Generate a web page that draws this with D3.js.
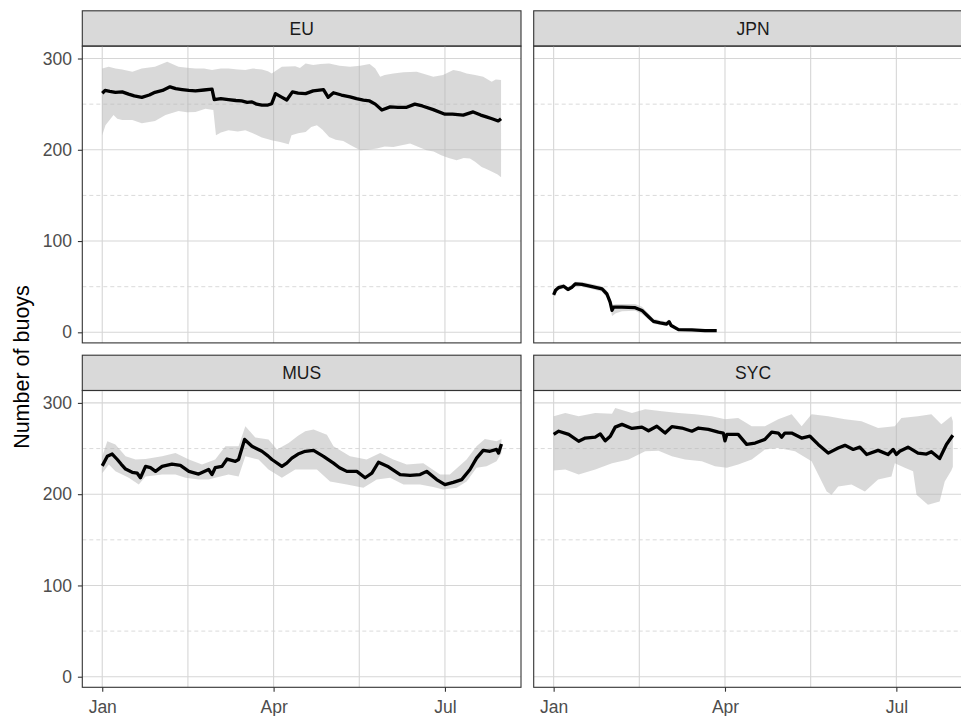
<!DOCTYPE html>
<html>
<head>
<meta charset="utf-8">
<script src="https://cdn.jsdelivr.net/npm/d3@7"></script>
<style>
  body { margin: 0; background: #fff; }
  svg { display: block; font-family: "Liberation Sans", Arial, sans-serif; }
</style>
</head>
<body>
<div id="container"></div>
<script>
// facets, in facet_wrap order
const countries = ['EU', 'JPN', 'MUS', 'SYC'];

// y axis breaks
const yTicks = [0, 100, 200, 300];
const yMinorTicks = [50, 150, 250];

// x axis breaks (2020, days since 1 Jan)
const xTickDates = ['2020-01-01', '2020-04-01', '2020-07-01'];
const dayRange = [0, 211.8];

// series: [day since 1 Jan, number of buoys]
const euMean = [[0,262],[1.5,265],[4,264],[7,263],[10.6,263.5],[14,261],[17,259],[21,257.5],[25,260],[28,263],[32,265],[36,269],[39,267],[42.4,266],[46,265],[49.5,264.5],[54,265.5],[58.3,266.5],[59.5,255],[63,256],[67,255],[71,254],[74,253.5],[77,252],[79.5,252.5],[82,250],[84.8,249],[88,249],[90,250.5],[92,261.5],[95,258],[98,254.5],[101,263.5],[104,262],[108,261.5],[112,264.5],[117.5,266],[120,257.5],[122.8,262.5],[127,260],[131.6,258],[135,256],[138.7,254.5],[142,253.5],[145,250],[148.5,243.5],[152.9,247],[157,246.5],[161.7,246.5],[166,250],[170,248],[175.8,244],[182,239],[186,239],[191.7,238],[197,241.5],[201,238],[204,236],[207,234],[210.3,231.6],[211.8,234]];
const euHigh = [[0,289],[3.4,291],[7,289],[10.6,288],[16,285.5],[21,289],[28,291],[34.5,296.5],[40.5,291],[45,290],[49.5,289],[54,289],[58.3,287.5],[63,289],[67,289],[72,288],[76,287.5],[80,289],[84.8,288],[88,286],[90,283.5],[95.4,291],[102.5,291.5],[105,289.5],[108,294.5],[112,293],[116,294],[120.5,294.5],[126,292],[131.6,291],[137,292],[142,294],[145,289],[147.6,280],[150,282],[154.6,283.5],[160,285],[167,285.5],[171,283],[175.8,280],[181,282],[186.4,287.5],[190,286],[193.5,283.5],[198,282],[202.3,280],[206.8,274.5],[209,277],[211.8,276.5]];
const euLow = [[0,216],[1.7,227],[6,238],[8,234],[10.6,232.5],[16,232.5],[21,229],[28,231.5],[33.6,238],[40.5,242.5],[45,241],[49.5,241.5],[54.8,245],[59,243.5],[60.4,216],[63,219],[67,221.5],[72,220],[76,221.5],[80,218],[84.8,213.5],[90,210.5],[94.5,208.5],[99,206],[100.5,216],[104,218],[108,219.5],[111,225],[114,227],[117,222],[120.5,214],[124,211],[128,209.5],[132,205],[137,199.5],[141,200],[145.8,201.5],[150,203.5],[154.6,203],[159,205],[163.5,207],[168,203],[172.3,199.5],[176,198],[180,194],[184,191],[188.2,188.5],[192,191],[195.3,190.5],[198,187],[201.5,181],[204,179],[207.6,175.5],[210,173],[211.8,170]];

const jpnMean = [[0,41],[1,46],[2.7,49],[5.3,50.5],[7.6,47],[9.5,49],[11.5,53],[15,52.5],[20.4,50],[25.7,47.5],[28.3,42],[30,33],[31,24],[31.8,27.5],[36.3,27.5],[43.3,27],[46.9,24],[50.4,17],[53,12],[56.6,10.3],[60,9],[61.3,11.7],[62.4,7.5],[66.3,3],[73.4,2.6],[80.4,1.9],[86.6,1.9]];
const jpnHigh = [[0,44],[2.7,52],[5.3,53],[7.6,49.5],[11.5,55.5],[15,55],[20.4,53],[25.7,50.5],[28.3,45.5],[30,37],[31,30],[33,31],[36.3,31],[43.3,31],[46.9,28],[50.4,20.5],[53,15],[56.6,13],[60,12],[61.3,14],[62.4,10],[66.3,5],[73.4,4],[80.4,3],[86.6,3]];
const jpnLow = [[0,39],[2.7,46.5],[5.3,48],[7.6,44.5],[11.5,50.5],[15,50],[20.4,47.5],[25.7,44.5],[28.3,38],[30,29],[31,18],[33,21],[36.3,23],[43.3,23.5],[46.9,20],[50.4,14],[53,9.5],[56.6,8],[60,7],[61.3,9],[62.4,5.5],[66.3,1.5],[73.4,1.2],[80.4,0.8],[86.6,0.8]];

const musMean = [[0,231],[2.7,241.5],[5.3,244],[8,238],[10,233],[12.4,227.5],[15.9,224],[18.6,223],[20.3,218],[23,230.5],[25.6,229],[28.3,225],[31.8,230.5],[37,233],[41.5,231.5],[46,225],[51.2,222],[56.5,227],[58.3,221.5],[60,229],[63.6,230.5],[66.3,238.5],[70.7,236],[72.4,238],[75.6,260],[79.5,252.5],[84.8,247],[88,242],[90.1,238],[95.4,230.5],[98,234],[100.7,239.5],[104,244],[107.8,247],[112.2,248],[117.5,241.5],[122.8,234],[126,229],[129.9,225],[135.2,225],[139.6,218],[143.2,223],[146.7,235],[152,230],[158.2,221.5],[163.5,220.5],[168.8,221.5],[172.3,225],[177.6,216],[182,210.5],[186.4,213],[190.9,216],[195.3,227],[198.8,239.5],[202.3,248],[205.9,247],[209.4,249],[210.5,245],[212,255]];
const musHigh = [[0,241.5],[2.7,258],[7,254.5],[12.4,241.5],[17.7,238],[23,238.5],[31.8,241.5],[38.9,245],[46,238],[53,232.5],[60,238],[65.4,252.5],[72.4,252.5],[76,274.5],[81.3,262],[88.3,260],[92.8,249],[99,256],[104,264],[107.8,269],[112.2,271],[119.3,265],[122.8,252.5],[131.6,241.5],[140.4,238],[147.6,245],[154.6,238],[161.7,232.5],[170.5,234],[179.4,221.5],[184.6,221.5],[193.5,238],[198.8,252.5],[203.2,260.5],[209.4,258],[212,260.5]];
const musLow = [[0,223],[3.5,232.5],[7,225],[14.1,218],[19.4,210.5],[23,219.5],[31.8,221.5],[38.9,221.5],[44.2,218],[51.2,216],[56.5,216],[60,218],[67.1,221.5],[72.4,219.5],[76,241.5],[83,238],[88.3,227],[95.4,218],[102.5,227],[107.8,227],[114,227],[121,214],[129.9,210.5],[138.7,207],[145.8,216],[152.9,218],[160,210.5],[168.8,210.5],[175.8,208],[181,205],[188.2,207],[193.5,214],[198.8,229],[204.1,230.5],[209.4,236],[212,245]];

const sycMean = [[0,265.5],[2.7,269],[8,265.5],[13.3,258],[16.8,261.5],[22.1,262.5],[24.8,266],[27.4,258.5],[30.1,263.5],[32.7,273.5],[36.3,276.5],[41.6,272],[46.9,273.5],[50.4,269.5],[54.8,274.5],[59.2,267],[62.8,274],[68.1,272.5],[73.4,269],[76.9,272.5],[82.2,271],[87.5,268],[90.1,267],[91,258.5],[92,265.5],[98,265.5],[102.5,254.5],[107,256],[112.2,260],[115.8,268],[119.3,267],[121.1,262.5],[122.8,267],[126.4,267],[131.7,261.5],[136.1,263.5],[140.5,254.5],[145.8,245],[151.1,250.5],[154.7,253.5],[159.1,249],[162.6,251.5],[166.2,243.5],[172.3,248],[177.6,243.5],[180.3,249],[182,243.5],[183.8,247],[188.2,251.5],[193.5,245],[198,244],[200.6,246.5],[205,239],[208.6,254.5],[212,264.5]];
const sycHigh = [[0,285.5],[6.2,289],[13.3,285.5],[22.1,289],[31,288],[32.7,294.5],[41.6,289],[48.6,293],[57.5,291],[66.3,289],[75.1,287.5],[84,285.5],[91,282],[98,283.5],[105.2,274.5],[112.2,274.5],[119.3,282],[126.4,287.5],[131.7,274.5],[137,287.5],[145.8,285.5],[154.7,282],[163.5,280],[172.3,272.5],[181.2,274.5],[184.7,283.5],[193.5,285.5],[200.6,287.5],[205.9,276.5],[211.2,285.5],[212,280]];
const sycLow = [[0,226],[6.2,227],[13.3,221.5],[22.1,227],[31,234],[39.8,238],[48.6,247],[55.7,247.5],[62.8,241.5],[69.8,238],[78.7,236],[85.7,230.5],[92,229],[98,232.5],[105.2,238],[112.2,249],[119.3,250.5],[128.2,247],[137,236],[140.5,221.5],[145,203],[147.6,199.5],[151.1,208.5],[158.2,210.5],[165.3,203],[172.3,216],[179.4,219.5],[181.2,234],[186.5,229],[190.9,225],[192.7,199.5],[198.8,188.5],[205,192],[207.7,214],[211.2,226],[212,230]];

const series = {
  EU: { mean: euMean, low: euLow, high: euHigh },
  JPN: { mean: jpnMean, low: jpnLow, high: jpnHigh },
  MUS: { mean: musMean, low: musLow, high: musHigh },
  SYC: { mean: sycMean, low: sycLow, high: sycHigh }
};

const w = 961;
const h = 716;
const panelW = 438.7;
const panelH = 296.8;
const stripH = 35.3;
const colX = [82.3, 533.7];
const rowY = [10.8, 355.2]; // top of each strip

const dayMs = 864e5;
const jan1 = Date.UTC(2020, 0, 1);
const toDate = d => new Date(jan1 + d * dayMs);

const span = dayRange[1] - dayRange[0];
const xScale = d3
  .scaleUtc()
  .domain([toDate(dayRange[0] - 0.05 * span), toDate(dayRange[1] + 0.05 * span)])
  .range([0, panelW]);

const yScale = d3.scaleLinear().domain([-11.6, 313.6]).range([panelH, 0]);

const majorX = xTickDates.map(s => new Date(s + 'T00:00:00Z'));
const minorX = d3.pairs(majorX).map(([a, b]) => new Date((+a + +b) / 2));

const svg = d3
  .select('#container')
  .append('svg')
  .attr('width', w)
  .attr('height', h);

svg.append('defs')
  .append('clipPath')
  .attr('id', 'panel-clip')
  .append('rect')
  .attr('width', panelW)
  .attr('height', panelH);

const line = d3
  .line()
  .x(d => xScale(toDate(d[0])))
  .y(d => yScale(d[1]))
  .curve(d3.curveLinear);

countries.forEach((name, i) => {
  const col = i % 2;
  const row = Math.floor(i / 2);
  const px = colX[col];
  const stripTop = rowY[row];
  const py = stripTop + stripH;
  const s = series[name];

  // strip
  svg.append('rect')
    .attr('x', px)
    .attr('y', stripTop)
    .attr('width', panelW)
    .attr('height', stripH)
    .attr('fill', '#d9d9d9')
    .attr('stroke', '#333333')
    .attr('stroke-width', 1.1);
  svg.append('text')
    .attr('x', px + panelW / 2)
    .attr('y', stripTop + stripH / 2 + 6.5)
    .attr('text-anchor', 'middle')
    .attr('font-size', 17.5)
    .attr('fill', '#1a1a1a')
    .text(name);

  const g = svg.append('g').attr('transform', `translate(${px},${py})`);
  const inner = g.append('g').attr('clip-path', 'url(#panel-clip)');

  inner.selectAll('.minor-y')
    .data(yMinorTicks)
    .enter()
    .append('line')
    .attr('x1', 0)
    .attr('x2', panelW)
    .attr('y1', d => yScale(d))
    .attr('y2', d => yScale(d))
    .attr('stroke', '#d6d6d6')
    .attr('stroke-width', 0.9)
    .attr('stroke-dasharray', '4,3');

  inner.selectAll('.major-y')
    .data(yTicks)
    .enter()
    .append('line')
    .attr('x1', 0)
    .attr('x2', panelW)
    .attr('y1', d => yScale(d))
    .attr('y2', d => yScale(d))
    .attr('stroke', '#d6d6d6')
    .attr('stroke-width', 1.1);

  inner.selectAll('.grid-x')
    .data(majorX.concat(minorX))
    .enter()
    .append('line')
    .attr('x1', d => xScale(d))
    .attr('x2', d => xScale(d))
    .attr('y1', 0)
    .attr('y2', panelH)
    .attr('stroke', '#d6d6d6')
    .attr('stroke-width', 1.1);

  // ribbon: upper edge then lower edge backwards
  const ribbon = s.high.concat(s.low.slice().reverse());
  inner.append('path')
    .attr('d', line(ribbon) + 'Z')
    .attr('fill', '#b3b3b3')
    .attr('fill-opacity', 0.5);

  inner.append('path')
    .attr('d', line(s.mean))
    .attr('fill', 'none')
    .attr('stroke', '#000')
    .attr('stroke-width', 3.3)
    .attr('stroke-linejoin', 'round');

  g.append('rect')
    .attr('width', panelW)
    .attr('height', panelH)
    .attr('fill', 'none')
    .attr('stroke', '#333333')
    .attr('stroke-width', 1.1);

  if (col === 0) {
    const yAxis = d3.axisLeft(yScale).tickValues(yTicks).tickSize(4.4).tickPadding(6);
    const ya = g.append('g').call(yAxis);
    ya.select('.domain').remove();
    ya.selectAll('.tick line').attr('stroke', '#333333').attr('stroke-width', 1.1);
    ya.selectAll('.tick text')
      .attr('fill', '#4d4d4d')
      .attr('font-size', 17.5);
    ya.attr('font-family', null);
  }

  if (row === 1) {
    const xAxis = d3.axisBottom(xScale)
      .tickValues(majorX)
      .tickFormat(d3.utcFormat('%b'))
      .tickSize(4.4)
      .tickPadding(9);
    const xa = g.append('g')
      .attr('transform', `translate(0,${panelH})`)
      .call(xAxis);
    xa.select('.domain').remove();
    xa.selectAll('.tick line').attr('stroke', '#333333').attr('stroke-width', 1.1);
    xa.selectAll('.tick text')
      .attr('fill', '#4d4d4d')
      .attr('font-size', 17.5);
    xa.attr('font-family', null);
  }
});

svg.append('text')
  .attr('transform', 'translate(29,367) rotate(-90)')
  .attr('text-anchor', 'middle')
  .attr('font-size', 21.5)
  .attr('fill', '#000')
  .text('Number of buoys');
</script>
</body>
</html>
